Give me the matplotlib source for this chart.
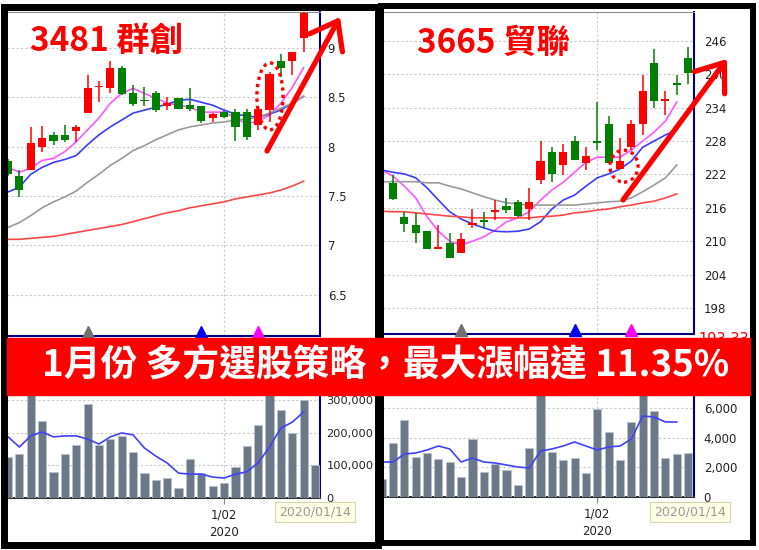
import numpy as np
import matplotlib
matplotlib.use('Agg')
import matplotlib.pyplot as plt
from matplotlib.patches import Rectangle, Ellipse, FancyArrowPatch

plt.rcParams['font.family'] = ['DejaVu Sans', 'Noto Sans CJK TC']
CJK = ['Noto Sans CJK TC', 'DejaVu Sans']

# ---------------- data: 3481 群創 ----------------
left_title = '3481 群創'
left_open  = [7.85, 7.70, 7.76, 8.00, 8.12, 8.12, 8.16, 8.34, 8.60, 8.59, 8.80, 8.54, 8.47, 8.54,
              8.41, 8.49, 8.42, 8.41, 8.29, 8.35, 8.35, 8.35, 8.22, 8.37, 8.87, 8.87, 9.10]
left_high  = [7.87, 7.76, 8.20, 8.21, 8.15, 8.22, 8.22, 8.73, 8.67, 8.87, 8.82, 8.62, 8.60, 8.56,
              8.50, 8.49, 8.59, 8.41, 8.34, 8.36, 8.38, 8.38, 8.38, 8.76, 8.94, 8.96, 9.36]
left_low   = [7.70, 7.49, 7.76, 7.95, 8.02, 8.05, 8.05, 8.34, 8.45, 8.54, 8.52, 8.41, 8.41, 8.35,
              8.37, 8.38, 8.36, 8.24, 8.25, 8.29, 8.06, 8.07, 8.17, 8.25, 8.71, 8.73, 8.96]
left_close = [7.72, 7.56, 8.04, 8.09, 8.06, 8.07, 8.20, 8.59, 8.61, 8.80, 8.53, 8.43, 8.46, 8.37,
              8.44, 8.38, 8.38, 8.26, 8.33, 8.30, 8.20, 8.10, 8.38, 8.74, 8.80, 8.96, 9.35]
left_ma5  = [7.79, 7.74, 7.78, 7.86, 7.88, 7.95, 8.05, 8.17, 8.29, 8.44, 8.54, 8.59, 8.54, 8.49,
             8.44, 8.42, 8.40, 8.35, 8.35, 8.35, 8.29, 8.23, 8.26, 8.32, 8.44, 8.60, 8.80]
left_ma10 = [7.54, 7.59, 7.72, 7.79, 7.84, 7.87, 7.91, 8.02, 8.12, 8.20, 8.27, 8.34, 8.37, 8.40,
             8.43, 8.47, 8.48, 8.45, 8.42, 8.37, 8.33, 8.31, 8.30, 8.33, 8.37, 8.44, 8.51]
left_ma20 = [7.18, 7.23, 7.30, 7.38, 7.44, 7.49, 7.55, 7.64, 7.72, 7.81, 7.88, 7.96, 8.01, 8.07,
             8.12, 8.17, 8.20, 8.22, 8.24, 8.25, 8.27, 8.28, 8.30, 8.34, 8.39, 8.44, 8.51]
left_ma60 = [7.06, 7.06, 7.07, 7.08, 7.09, 7.11, 7.13, 7.15, 7.17, 7.19, 7.21, 7.24, 7.27, 7.30,
             7.33, 7.35, 7.38, 7.40, 7.42, 7.44, 7.47, 7.49, 7.51, 7.53, 7.56, 7.60, 7.65]
left_vol = [125000, 135000, 350000, 235000, 80000, 135000, 162000, 287000, 162000, 180000,
            190000, 141000, 76000, 55000, 61000, 31000, 119000, 76000, 37000, 46000, 95000,
            159000, 223000, 340000, 269000, 199000, 300000, 101000]
left_vol_ma = [187000, 156000, 190000, 202000, 187000, 190000, 190000, 180000, 165000, 187000,
               199000, 193000, 153000, 128000, 107000, 76000, 73000, 73000, 64000, 61000, 73000,
               80000, 107000, 156000, 214000, 232000, 263000]
left_yticks = [6.5, 7, 7.5, 8, 8.5, 9]
left_ytick_labels = ['6.5', '7', '7.5', '8', '8.5', '9']
left_vticks = [0, 100000, 200000, 300000]
left_vtick_labels = ['0', '100,000', '200,000', '300,000']
left_date_idx = 19
left_signal_idx = [7, 17, 22]

# ---------------- data: 3665 貿聯 ----------------
right_title = '3665 貿聯'
right_open  = [220.5, 214.4, 212.9, 211.8, 208.6, 209.7, 207.9, 212.9, 213.8, 215.3, 216.3, 217.1,
               215.8, 221.0, 226.0, 223.7, 228.0, 224.1, 228.0, 231.1, 223.0, 226.9, 231.1, 242.0,
               235.2, 238.4, 242.9]
right_high  = [221.9, 215.3, 215.1, 211.8, 212.9, 211.5, 211.5, 215.8, 215.3, 217.4, 217.8, 217.4,
               219.6, 228.0, 226.9, 227.5, 228.9, 226.9, 235.0, 232.5, 228.6, 231.8, 239.9, 244.6,
               237.0, 239.9, 244.9]
right_low   = [217.4, 211.7, 209.7, 208.6, 208.6, 207.0, 207.9, 212.4, 212.4, 213.8, 215.1, 214.4,
               213.8, 220.3, 220.7, 221.9, 224.6, 222.8, 226.4, 224.1, 223.0, 226.4, 229.1, 234.0,
               232.7, 236.3, 238.3]
right_close = [217.6, 213.1, 211.5, 208.6, 209.0, 207.0, 210.4, 213.1, 213.5, 215.4, 215.6, 214.5,
               217.1, 224.4, 222.1, 226.0, 224.6, 225.3, 227.7, 224.1, 224.4, 231.1, 237.0, 235.2,
               235.6, 238.1, 240.2]
# moving averages start one session before the first visible candle
right_ma5  = [222.8, 221.7, 219.9, 217.8, 214.4, 211.8, 210.0, 209.3, 210.0, 210.8, 212.0, 213.5,
              214.2, 215.3, 217.4, 219.2, 220.6, 222.4, 224.2, 225.1, 225.1, 225.1, 226.4, 228.0,
              229.6, 231.6, 235.0]
right_ma10 = [222.8, 222.4, 222.1, 221.4, 219.6, 217.4, 215.3, 214.0, 213.1, 212.4, 211.8, 211.7,
              211.8, 212.2, 213.5, 215.8, 217.4, 218.3, 219.9, 221.4, 222.1, 223.0, 224.4, 226.9,
              228.0, 229.1, 230.0]
right_ma20 = [220.7, 220.7, 220.7, 220.7, 220.5, 220.5, 219.9, 219.4, 218.7, 218.0, 217.4, 216.9,
              216.7, 216.5, 216.5, 216.5, 216.5, 216.5, 216.7, 216.9, 217.1, 217.2, 217.8, 218.9,
              220.1, 221.4, 223.7]
right_ma60 = [215.4, 215.3, 215.3, 215.1, 214.9, 214.7, 214.5, 214.4, 214.2, 214.2, 214.2, 214.2,
              214.2, 214.2, 214.4, 214.5, 214.7, 215.1, 215.3, 215.6, 215.8, 216.2, 216.5, 216.9,
              217.2, 217.8, 218.5]
right_vol = [1212, 3636, 5185, 2694, 2963, 2559, 2357, 1347, 3906, 1684, 2222, 1818, 808, 3300,
             7500, 3030, 2492, 2626, 1616, 5926, 4377, 2492, 5050, 7500, 5791, 2626, 2896, 2963]
right_vol_ma = [2357, 2357, 2896, 2963, 3165, 3434, 3232, 2357, 2626, 2357, 2290, 2155, 2020,
                1953, 3098, 3232, 3434, 3704, 3434, 3165, 3367, 3434, 3906, 5455, 5387, 5050, 5050]
right_yticks = [198, 204, 210, 216, 222, 228, 234, 240, 246]
right_ytick_labels = [str(v) for v in right_yticks]
right_vticks = [0, 2000, 4000, 6000]
right_vtick_labels = ['0', '2,000', '4,000', '6,000']
right_date_idx = 18
right_signal_idx = [6, 16, 21]
right_min_label = '193.33'

banner_text = '1月份 多方選股策略，最大漲幅達 11.35%'
date_label = '2020/01/14'
date_tick = '1/02\n2020'

UP, DOWN = '#ff0000', '#008000'
MA_COLORS = ['#ff55ff', '#3b3bff', '#9a9a9a', '#ff4646']
VOL_COLOR = '#6b7888'
NAVY = '#000080'
GRID = dict(color='#c8c8c8', ls=(0, (2, 2)), lw=0.8)

W, H = 759, 550
fig = plt.figure(figsize=(W / 100, H / 100), dpi=100)
fig.patch.set_facecolor('white')


def box(x0, y0, x1, y1):
    return [x0 / W, 1 - y1 / H, (x1 - x0) / W, (y1 - y0) / H]


def fp(x, y):
    return (x / W, 1 - y / H)


def price_panel(ax, o, h, l, c, ma_x, mas, yticks, ylabels, date_idx, sig_idx, min_h, pad):
    x = np.arange(len(o))
    for xi, oi, hi, li, ci in zip(x, o, h, l, c):
        col = UP if ci >= oi else DOWN
        ax.vlines(xi, li, hi, color=col, lw=1.1, zorder=3)
        ax.bar(xi, max(abs(ci - oi), min_h), bottom=min(oi, ci), width=0.72,
               color=col, zorder=3)
    for m, col in zip(mas, MA_COLORS):
        ax.plot(ma_x, m, color=col, lw=1.2, zorder=2)
    for xi, col in zip(sig_idx, ['#707070', '#0000ff', '#ff00ff']):
        ax.plot(xi, 0.012, marker='^', ms=8, color=col, transform=ax.get_xaxis_transform(),
                clip_on=False, zorder=4)
    ax.yaxis.tick_right()
    ax.set_yticks(yticks)
    ax.set_yticklabels(ylabels)
    ax.set_xticks([date_idx])
    ax.set_xticklabels([''])
    ax.tick_params(axis='x', length=0)
    ax.tick_params(axis='y', length=0, pad=pad, labelsize=8.5, labelcolor='#222222')
    ax.grid(True, **GRID)
    ax.spines['left'].set_visible(False)
    ax.spines['top'].set_color('#888888')
    ax.spines['right'].set_color(NAVY)
    ax.spines['right'].set_linewidth(1.5)
    ax.spines['bottom'].set_color(NAVY)
    ax.spines['bottom'].set_linewidth(1.5)


def volume_panel(ax, vol, vol_x, vma, vma_x, yticks, ylabels, date_idx, pad, size):
    ax.bar(vol_x, vol, width=0.72, color=VOL_COLOR, edgecolor='#b8c0ca', lw=0.6, zorder=3)
    ax.plot(vma_x, vma, color='#4040ff', lw=1.2, zorder=4)
    ax.yaxis.tick_right()
    ax.set_yticks(yticks)
    ax.set_yticklabels(ylabels)
    ax.set_xticks([date_idx])
    ax.set_xticklabels([date_tick], fontsize=8.5, color='#222222', linespacing=1.5)
    ax.tick_params(axis='x', length=4, color='#888888')
    ax.tick_params(axis='y', length=0, pad=pad, labelsize=size, labelcolor='#222222')
    ax.grid(True, **GRID)
    ax.spines['left'].set_visible(False)
    ax.spines['top'].set_visible(False)
    ax.spines['right'].set_color(NAVY)
    ax.spines['right'].set_linewidth(1.5)
    ax.spines['bottom'].set_color('#333333')
    ax.spines['bottom'].set_linewidth(1.5)


# left stock
axL = fig.add_axes(box(7, 12, 320, 336))
price_panel(axL, left_open, left_high, left_low, left_close, np.arange(len(left_ma5)),
            [left_ma5, left_ma10, left_ma20, left_ma60], left_yticks, left_ytick_labels,
            left_date_idx, left_signal_idx, 0.006, 5.5)
axL.set_xlim(-0.09, 27.44)
axL.set_ylim(6.08, 9.365)
axL.add_patch(Ellipse((23.04, 8.51), 2.3, 0.68, fill=False, ec='red', lw=2.4,
                      ls=(0, (1, 1.2)), zorder=5))

vL = fig.add_axes(box(7, 396, 320, 498))
volume_panel(vL, left_vol, np.arange(len(left_vol)), left_vol_ma, np.arange(len(left_vol_ma)),
             left_vticks, left_vtick_labels, left_date_idx, 4.5, 8.2)
vL.set_xlim(-0.09, 27.44)
vL.set_ylim(0, 312000)

# right stock
axR = fig.add_axes(box(383, 12, 694, 334))
price_panel(axR, right_open, right_high, right_low, right_close, np.arange(-1, len(right_ma5) - 1),
            [right_ma5, right_ma10, right_ma20, right_ma60], right_yticks, right_ytick_labels,
            right_date_idx, right_signal_idx, 0.35, 7)
axR.set_xlim(-0.88, 26.52)
axR.set_ylim(193.33, 251.2)
axR.add_patch(Ellipse((20.35, 223.5), 2.47, 5.75, fill=False, ec='red', lw=2.4,
                      ls=(0, (1, 1.2)), zorder=5))

vR = fig.add_axes(box(383, 396, 694, 497))
volume_panel(vR, right_vol, np.arange(-1, len(right_vol) - 1), right_vol_ma,
             np.arange(-1, len(right_vol_ma) - 1), right_vticks, right_vtick_labels,
             right_date_idx, 7, 8.5)
vR.set_xlim(-0.88, 26.52)
vR.set_ylim(0, 6800)

# overlay texts and shapes
fig.text(*fp(698, 339), right_min_label, color='red', fontsize=10.5, va='center', ha='left',
         zorder=3)
for cx in (315, 690):
    fig.text(*fp(cx, 512), date_label, color='#999999', fontsize=9, ha='center', va='center',
             zorder=6, bbox=dict(boxstyle='square,pad=0.3', fc='#ffffe6', ec='#d6d6b0', lw=0.8))

# black frames around the two screenshots
fig.add_artist(Rectangle(fp(3.5, 544.5), 374.5 / W, 538 / H, transform=fig.transFigure,
                         fill=False, ec='black', lw=5, zorder=10))
fig.add_artist(Rectangle(fp(381, 543), 371.5 / W, 537 / H, transform=fig.transFigure,
                         fill=False, ec='black', lw=4.3, zorder=10))

# red banner across both screenshots
fig.add_artist(Rectangle(fp(7, 395), 743 / W, 57 / H, transform=fig.transFigure,
                         color='#ff0000', zorder=11))
fig.text(*fp(386, 366), banner_text, color='white', fontsize=26.5, fontweight='bold',
         family=CJK, ha='center', va='center', zorder=12)

fig.text(*fp(30, 41), left_title, color='#ff0000', fontsize=24, fontweight='bold',
         family=CJK, ha='left', va='center', zorder=7)
fig.text(*fp(417, 43), right_title, color='#ff0000', fontsize=24, fontweight='bold',
         family=CJK, ha='left', va='center', zorder=7)

for a, b in [((267, 151), (340, 17)), ((623, 200), (727, 59))]:
    fig.add_artist(FancyArrowPatch(fp(*a), fp(*b), transform=fig.transFigure,
                                   arrowstyle='->,head_length=0.6,head_width=0.45',
                                   mutation_scale=30, lw=3.8, color='#ff0000',
                                   shrinkA=0, shrinkB=0, zorder=8))

fig.savefig('out.png', dpi=100)
